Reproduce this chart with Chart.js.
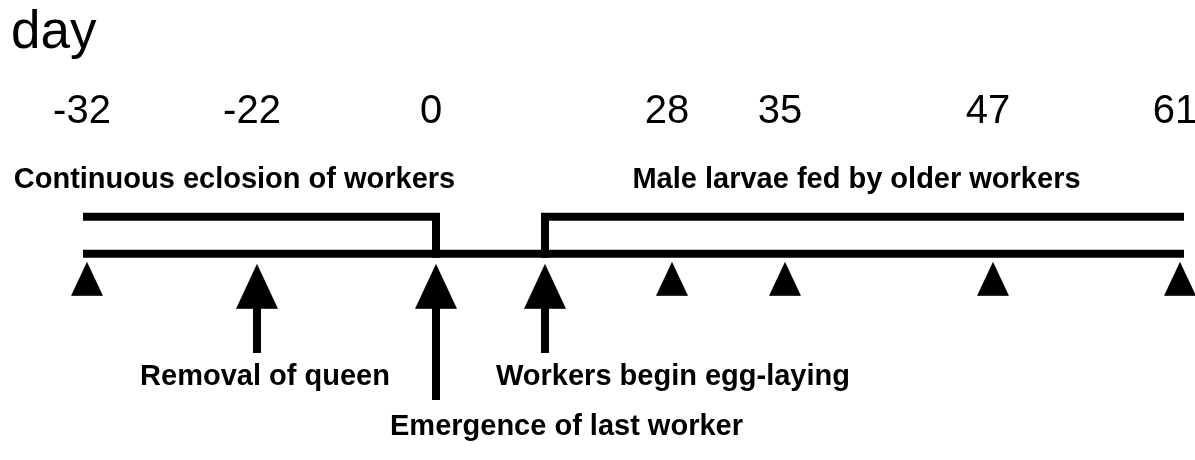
<!DOCTYPE html>
<html>
<head>
<meta charset="utf-8">
<title>day timeline</title>
<script src="https://cdn.jsdelivr.net/npm/chart.js@4.4.1/dist/chart.umd.min.js"></script>
<style>
  html, body { margin: 0; padding: 0; background: #fff; }
  canvas { display: block; }
</style>
</head>
<body>
<canvas id="timeline" width="1195" height="460"></canvas>
<script>
// === DATA ===
const dayLabels = ["-32", "-22", "0", "", "28", "35", "47", "61"];
const plainMarkers = [0, 4, 5, 6, 7];          // index into dayLabels
const arrowMarkers = [1, 2, 3];
const arrowTexts = ["Removal of queen", "Emergence of last worker", "Workers begin egg-laying"];
const arrowRows = [1, 2, 1];                    // label row under the axis
const phaseTexts = ["Continuous eclosion of workers", "Male larvae fed by older workers"];
const phaseStart = [0, 3];
const phaseEnd = [2, 7];
const phaseOpenSide = ["end", "start"];         // side where the bracket drops to the axis

// === LAYOUT (schematic, not to scale) ===
const tickGaps = { lead: 76, gaps: [170, 179, 109, 127, 113, 208, 187], trail: 15 };
const rowBaseline = { 1: -3.54, 2: -4.89 };
const rowShaftEnd = { 1: -2.68, 2: -3.95 };
const arrowAlign = ["center", "left", "left"];
const arrowDx = [8, -46, -49];
const phaseDx = [-27, -6];
const phaseBaseline = 1.78;
const FONT = '"Liberation Sans", Arial, Helvetica, sans-serif';

Chart.defaults.font.family = FONT;
Chart.defaults.color = "#000";

// category scale with uneven gaps between the days
class GapScale extends Chart.CategoryScale {
  getPixelForValue(value) {
    if (typeof value !== "number") value = this.parse(value);
    if (value === null || isNaN(value)) return NaN;
    const total = tickGaps.lead + tickGaps.gaps.reduce((a, b) => a + b, 0) + tickGaps.trail;
    const i = Math.floor(value);
    let acc = tickGaps.lead;
    for (let k = 0; k < i && k < tickGaps.gaps.length; k++) acc += tickGaps.gaps[k];
    if (i >= 0 && i < tickGaps.gaps.length) acc += (value - i) * tickGaps.gaps[i];
    return this.left + this.width * acc / total;
  }
  // the last label may run off the edge, like in the figure
  _calculatePadding() {
    this.paddingLeft = 0;
    this.paddingRight = 0;
  }
}
GapScale.id = "gapcategory";
GapScale.defaults = Chart.CategoryScale.defaults;
Chart.register(GapScale);

// === marker pictures (triangle sits below the point) ===
function makeTriangle(w, top, bottom) {
  const c = document.createElement("canvas");
  c.width = w;
  c.height = bottom * 2 + 2;
  const g = c.getContext("2d");
  const mid = c.height / 2;
  g.fillStyle = "#000";
  g.beginPath();
  g.moveTo(w / 2, mid + top);
  g.lineTo(w, mid + bottom);
  g.lineTo(0, mid + bottom);
  g.closePath();
  g.fill();
  return c;
}
const smallTri = makeTriangle(32, 8, 42);
const bigTri = makeTriangle(42, 10, 55);

// === DATASETS ===
const lineStyle = {
  type: "line", borderColor: "#000", borderWidth: 8, pointRadius: 0,
  borderCapStyle: "square", borderJoinStyle: "miter", tension: 0, fill: false
};
const at = idx => dayLabels[idx];

const datasets = [];
datasets.push({ ...lineStyle, data: [{ x: at(0), y: 0 }, { x: at(dayLabels.length - 1), y: 0 }] });

phaseStart.forEach((s, i) => {
  const e = phaseEnd[i];
  const pts = phaseOpenSide[i] === "end"
    ? [{ x: at(s), y: 1 }, { x: at(e), y: 1 }, { x: at(e), y: 0 }]
    : [{ x: at(s), y: 0 }, { x: at(s), y: 1 }, { x: at(e), y: 1 }];
  datasets.push({ ...lineStyle, data: pts });
});

arrowMarkers.forEach((idx, i) => {
  datasets.push({ ...lineStyle, borderCapStyle: "butt", data: [{ x: at(idx), y: -1 }, { x: at(idx), y: rowShaftEnd[arrowRows[i]] }] });
});

datasets.push({
  type: "line", showLine: false, pointStyle: smallTri, pointRadius: 16,
  data: plainMarkers.map(idx => ({ x: at(idx), y: 0 }))
});
datasets.push({
  type: "line", showLine: false, pointStyle: bigTri, pointRadius: 20,
  data: arrowMarkers.map(idx => ({ x: at(idx), y: 0 }))
});

// === TEXT LABELS ===
const labelPlugin = {
  id: "timelineLabels",
  afterDatasetsDraw(chart) {
    const ctx = chart.ctx;
    const x = chart.scales.x, y = chart.scales.y;
    ctx.save();
    ctx.fillStyle = "#000";
    ctx.font = "bold 29px " + FONT;
    ctx.textBaseline = "alphabetic";

    phaseTexts.forEach((t, i) => {
      const mid = (x.getPixelForValue(phaseStart[i]) + x.getPixelForValue(phaseEnd[i])) / 2;
      ctx.textAlign = "center";
      ctx.fillText(t, mid + phaseDx[i], y.getPixelForValue(phaseBaseline));
    });

    arrowTexts.forEach((t, i) => {
      ctx.textAlign = arrowAlign[i];
      ctx.fillText(t, x.getPixelForValue(arrowMarkers[i]) + arrowDx[i], y.getPixelForValue(rowBaseline[arrowRows[i]]));
    });
    ctx.restore();
  }
};

new Chart(document.getElementById("timeline"), {
  data: { labels: dayLabels, datasets },
  options: {
    responsive: false,
    animation: false,
    events: [],
    devicePixelRatio: 1,
    layout: { autoPadding: false, padding: { left: 11, right: 0, top: 0, bottom: 0 } },
    plugins: {
      legend: { display: false },
      tooltip: { enabled: false },
      title: {
        display: true, text: "day", align: "start", color: "#000",
        font: { size: 53, weight: "normal" }, padding: { top: 2, bottom: 22 }
      }
    },
    scales: {
      x: {
        type: "gapcategory", position: "top",
        grid: { display: false, drawTicks: false }, border: { display: false },
        ticks: { font: { size: 40 }, padding: 0, labelOffset: -5, autoSkip: false, maxRotation: 0, color: "#000" }
      },
      y: { type: "linear", display: false, min: -5.568, max: 3.19 }
    }
  },
  plugins: [labelPlugin]
});
</script>
</body>
</html>
